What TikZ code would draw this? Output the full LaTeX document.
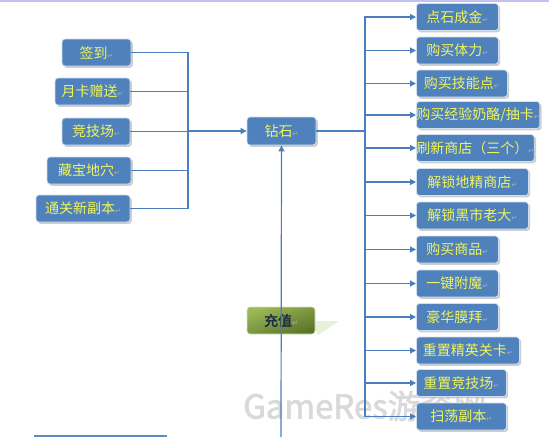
\documentclass[tikz,border=0pt]{standalone}
\usepackage{fontspec}
\newfontfamily\cjk{Noto Sans CJK SC}
\newfontfamily\cjkbold{Noto Sans CJK SC}[FakeBold=2]
\newfontfamily\dejavu{DejaVu Sans}
\usetikzlibrary{shadows,arrows.meta}
\definecolor{boxblue}{HTML}{4F81BD}
\definecolor{boxtext}{HTML}{F2F55A}
\definecolor{linec}{HTML}{4A7EBF}
\definecolor{greenlt}{HTML}{9CB957}
\definecolor{greendk}{HTML}{5A7529}
\definecolor{navy}{HTML}{1B2A4A}
\newcommand{\retmark}{{\dejavu\color{gray!60}\fontsize{7}{7}\selectfont ↵}}
\tikzset{
  bbox/.style={rectangle, rounded corners=3pt, fill=boxblue, draw=white!75!boxblue,
    line width=0.8pt, text=boxtext, font=\cjk\fontsize{14}{14}\selectfont,
    minimum height=27pt, inner sep=0pt,
    drop shadow={shadow xshift=1.8pt, shadow yshift=-1.8pt, fill=gray!55, opacity=0.7}},
  conn/.style={draw=linec, line width=1.2pt},
  arr/.style={conn, -{Triangle[length=6pt,width=6pt]}},
}
\begin{document}
\begin{tikzpicture}[x=1pt,y=-1pt]
\useasboundingbox (0,0) rectangle (549,437);
\fill[white] (0,0) rectangle (549,437);
% top and bottom rules
\draw[draw=gray!40!blue!30, line width=2pt] (0,1) -- (549,1);
\draw[draw=linec!90, line width=2pt] (34,435.5) -- (167,435.5);

% watermark (faint, behind)
\node[anchor=west, text=gray!30, inner sep=0pt,
  font=\cjkbold\fontsize{33}{33}\selectfont] (wm) at (243,406) {GameRes游资网};

% left boxes
\node[bbox, minimum width=69pt] (qd) at (96.5,52.5) {签到\retmark};
\node[bbox, minimum width=75pt] (yk) at (92.5,91.5) {月卡赠送\retmark};
\node[bbox, minimum width=68pt] (jjc) at (96,131.5) {竞技场\retmark};
\node[bbox, minimum width=84pt] (cb) at (89,170.5) {藏宝地穴\retmark};
\node[bbox, minimum width=94pt] (tg) at (83,208.5) {通关新副本\retmark};

% center
\node[bbox, minimum width=69pt, minimum height=28pt] (zs) at (281.5,131) {钻石\retmark};

% callout tail and recharge box
\fill[color=green!20!olive!15] (312,321) -- (339,321) -- (318,335) -- cycle;
\node[rectangle, rounded corners=3pt, minimum width=68pt, minimum height=27pt, inner sep=0pt,
  shading=axis, top color=greenlt, bottom color=greendk, shading angle=20,
  draw=white!60!greenlt, line width=0.6pt,
  text=navy, font=\cjkbold\fontsize{14}{14}\selectfont] (cz) at (281,320.5) {充值\retmark};

% right boxes
\foreach \n/\y/\w/\t in {
  r1/17/82/{点石成金}, r2/50.5/82/{购买体力}, r3/83.5/91/{购买技能点},
  r4/115/122/{购买经验奶酪/抽卡}, r5/148/111/{刷新商店（三个）},
  r6/182/112/{解锁地精商店}, r7/215.5/112/{解锁黑市老大}, r8/249.5/82/{购买商品},
  r9/283.5/82/{一键附魔}, r10/317/82/{豪华膜拜}, r11/350.5/103/{重置精英关卡},
  r12/383/90/{重置竞技场}, r13/416.5/90/{扫荡副本}}{
  \node[bbox, anchor=west, minimum width=\w pt] (\n) at (416,\y) {\t\retmark};
}

% connectors
\coordinate (lbus) at (188,131);
\coordinate (rbus) at (365,131);
\coordinate (bot) at (281,437);
\foreach \b in {qd,yk,jjc,cb,tg} { \draw[conn] (\b.east) -| (lbus); }
\draw[arr] (lbus) -- (zs.west);
\draw[conn] (zs.east) -- (rbus);
\foreach \b in {r1,r2,r3,r4,r5,r6,r7,r8,r9,r10,r11,r12,r13} { \draw[arr] (rbus) |- (\b.west); }
\draw[arr] (bot) -- (zs.south);
\end{tikzpicture}
\end{document}
